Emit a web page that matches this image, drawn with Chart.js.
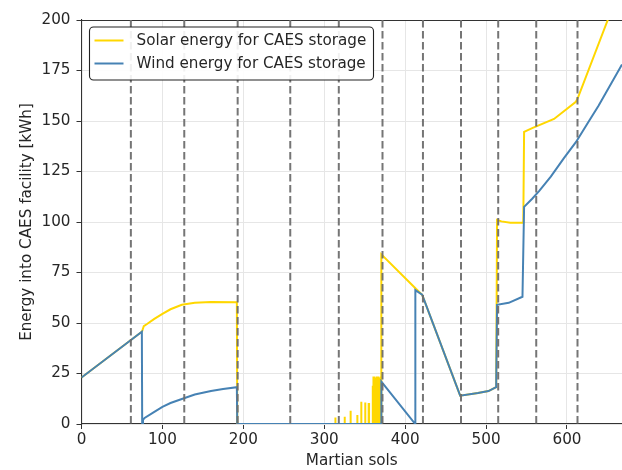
<!DOCTYPE html>
<html>
<head>
<meta charset="utf-8">
<script src="https://cdn.jsdelivr.net/npm/chart.js@4.4.1/dist/chart.umd.min.js"></script>
<style>
  html, body { margin: 0; padding: 0; background: #fff; }
  #wrap { width: 622px; height: 470px; }
</style>
</head>
<body>
<div id="wrap"><canvas id="mycanvas" width="622" height="470"></canvas></div>
<script>
// sols where each Martian month begins (dashed lines)
var monthStarts = [61, 127, 193, 258, 318, 372, 422, 469, 515, 562, 613];

var xTicks = [0, 100, 200, 300, 400, 500, 600];
var yTicks = [0, 25, 50, 75, 100, 125, 150, 175, 200];

// solar energy into the CAES facility
var solarSols = [0, 74.6, 75, 77, 81, 90, 100, 110, 124, 140, 160, 192, 192.5, 312,
                 370.5, 370.6, 413.6, 421, 468, 490, 503, 512.5, 513.6, 519, 530, 546,
                 547, 557, 584, 611, 613, 650.4, 668];
var solarKWh  = [23, 45.7, 46, 48.5, 49.5, 52, 54.5, 56.8, 59, 60, 60.4, 60.3, 0, 0,
                 0, 84, 66.8, 64, 14, 15.3, 16.3, 18.3, 101, 100.3, 99.6, 99.6,
                 144.6, 146.5, 151, 159.5, 161, 200, 218];

// short solar bursts around sol 313-370
var spikeSols = [313.5, 325, 332.3, 340.6, 345.5, 350.4, 354.9, 360, 361, 362, 363, 364, 365, 366, 367, 368, 369, 370];
var spikeKWh  = [3.2, 3.6, 6.5, 4.5, 11, 10.7, 9.9, 18.5, 23, 23, 23, 23, 23, 23, 23, 23, 23, 23];

// wind energy into the CAES facility
var windSols = [0, 74.6, 75, 76, 78, 90, 100, 110, 124, 140, 160, 175, 192, 192.5,
                370.5, 370.6, 412.5, 412.6, 421, 468, 490, 503, 512.5, 513.6, 528, 545,
                547, 557, 566, 580, 596, 611, 628, 639, 668];
var windKWh  = [23, 45.7, 0, 2, 3, 6, 8.5, 10.4, 12.4, 14.6, 16.3, 17.3, 18.2, 0,
                0, 21, 0, 66.3, 64, 14, 15.3, 16.3, 18.3, 59, 60, 63,
                107.5, 111.5, 115.5, 122.5, 131.5, 139.5, 150.5, 157.5, 178];

var solarPts = [];
solarSols.forEach(function(s, i) { if (s <= 312) solarPts.push({x: s, y: solarKWh[i]}); });
spikeSols.forEach(function(s, i) {
	solarPts.push({x: s, y: 0}, {x: s, y: spikeKWh[i]}, {x: s + 0.5, y: spikeKWh[i]}, {x: s + 0.5, y: 0});
});
solarSols.forEach(function(s, i) { if (s >= 370.5) solarPts.push({x: s, y: solarKWh[i]}); });

var windPts = windSols.map(function(s, i) { return {x: s, y: windKWh[i]}; });

var FONT = "'DejaVu Sans', sans-serif";
var FSIZE = 15.2;
Chart.defaults.font.family = FONT;
Chart.defaults.font.size = FSIZE;
Chart.defaults.color = '#262626';

var frame = {
	id: 'frame',
	beforeDatasetsDraw: function(chart) {
		var a = chart.chartArea, c = chart.ctx;
		c.save();
		c.strokeStyle = '#333';
		c.lineWidth = 1.1;
		c.beginPath();
		c.moveTo(a.left, a.top + 0.5);
		c.lineTo(a.right, a.top + 0.5);
		c.stroke();
		c.restore();
	}
};

var months = {
	id: 'months',
	afterDatasetsDraw: function(chart) {
		var a = chart.chartArea, c = chart.ctx, xs = chart.scales.x;
		c.save();
		c.beginPath();
		c.rect(a.left, a.top, a.right - a.left, a.bottom - a.top);
		c.clip();
		c.strokeStyle = 'rgba(110,110,110,0.95)';
		c.lineWidth = 2;
		c.setLineDash([7.5, 3.5]);
		monthStarts.forEach(function(m) {
			var px = xs.getPixelForValue(m);
			c.beginPath();
			c.moveTo(px, a.top);
			c.lineTo(px, a.bottom);
			c.stroke();
		});
		c.restore();
	}
};

var boxLegend = {
	id: 'boxLegend',
	afterDraw: function(chart) {
		var c = chart.ctx, a = chart.chartArea;
		var x = a.left + 8, y = a.top + 7, w = 284, h = 53, r = 4;
		c.save();
		c.fillStyle = 'rgba(255,255,255,0.9)';
		c.strokeStyle = '#222';
		c.lineWidth = 1.1;
		c.beginPath();
		c.roundRect(x, y, w, h, r);
		c.fill();
		c.stroke();
		c.font = FSIZE + 'px ' + FONT;
		c.textBaseline = 'middle';
		chart.data.datasets.forEach(function(ds, i) {
			var ly = y + 13.5 + i * 23;
			c.strokeStyle = ds.borderColor;
			c.lineWidth = 2;
			c.beginPath();
			c.moveTo(x + 5, ly);
			c.lineTo(x + 34, ly);
			c.stroke();
			c.fillStyle = '#262626';
			c.fillText(ds.label, x + 47, ly + 1);
		});
		c.restore();
	}
};

var ctx = document.getElementById('mycanvas');

new Chart(ctx, {
	type: 'line',
	data: {
		datasets: [
			{
				label: 'Solar energy for CAES storage',
				data: solarPts,
				borderColor: '#FFD700',
				borderWidth: 2,
				pointRadius: 0,
				fill: false,
				tension: 0,
				order: 1
			},
			{
				label: 'Wind energy for CAES storage',
				data: windPts,
				borderColor: '#4682B4',
				borderWidth: 2,
				pointRadius: 0,
				fill: false,
				tension: 0,
				order: 0
			}
		]
	},
	options: {
		responsive: false,
		animation: false,
		layout: { padding: { top: 20, right: 0, left: 0, bottom: 0 } },
		plugins: {
			legend: { display: false },
			tooltip: { enabled: false }
		},
		scales: {
			x: {
				type: 'linear',
				min: 0,
				max: 668,
				afterFit: function(s) { s.height = 46; },
				afterBuildTicks: function(s) { s.ticks = xTicks.map(function(v) { return {value: v}; }); },
				ticks: { padding: 2, color: '#262626' },
				grid: { color: '#e6e6e6', tickColor: '#333', tickLength: 5 },
				border: { color: '#333', width: 1.1 },
				title: { display: true, text: 'Martian sols', padding: { top: 0, bottom: 0 }, color: '#262626' }
			},
			y: {
				min: 0,
				max: 200,
				afterFit: function(s) { s.width = 81.5; },
				afterBuildTicks: function(s) { s.ticks = yTicks.map(function(v) { return {value: v}; }); },
				ticks: { padding: 6, color: '#262626' },
				grid: { color: '#e6e6e6', tickColor: '#333', tickLength: 5 },
				border: { color: '#333', width: 1.1 },
				title: { display: true, text: 'Energy into CAES facility [kWh]', padding: { top: 18, bottom: 0 }, color: '#262626' }
			}
		}
	},
	plugins: [frame, months, boxLegend]
});
</script>
</body>
</html>
